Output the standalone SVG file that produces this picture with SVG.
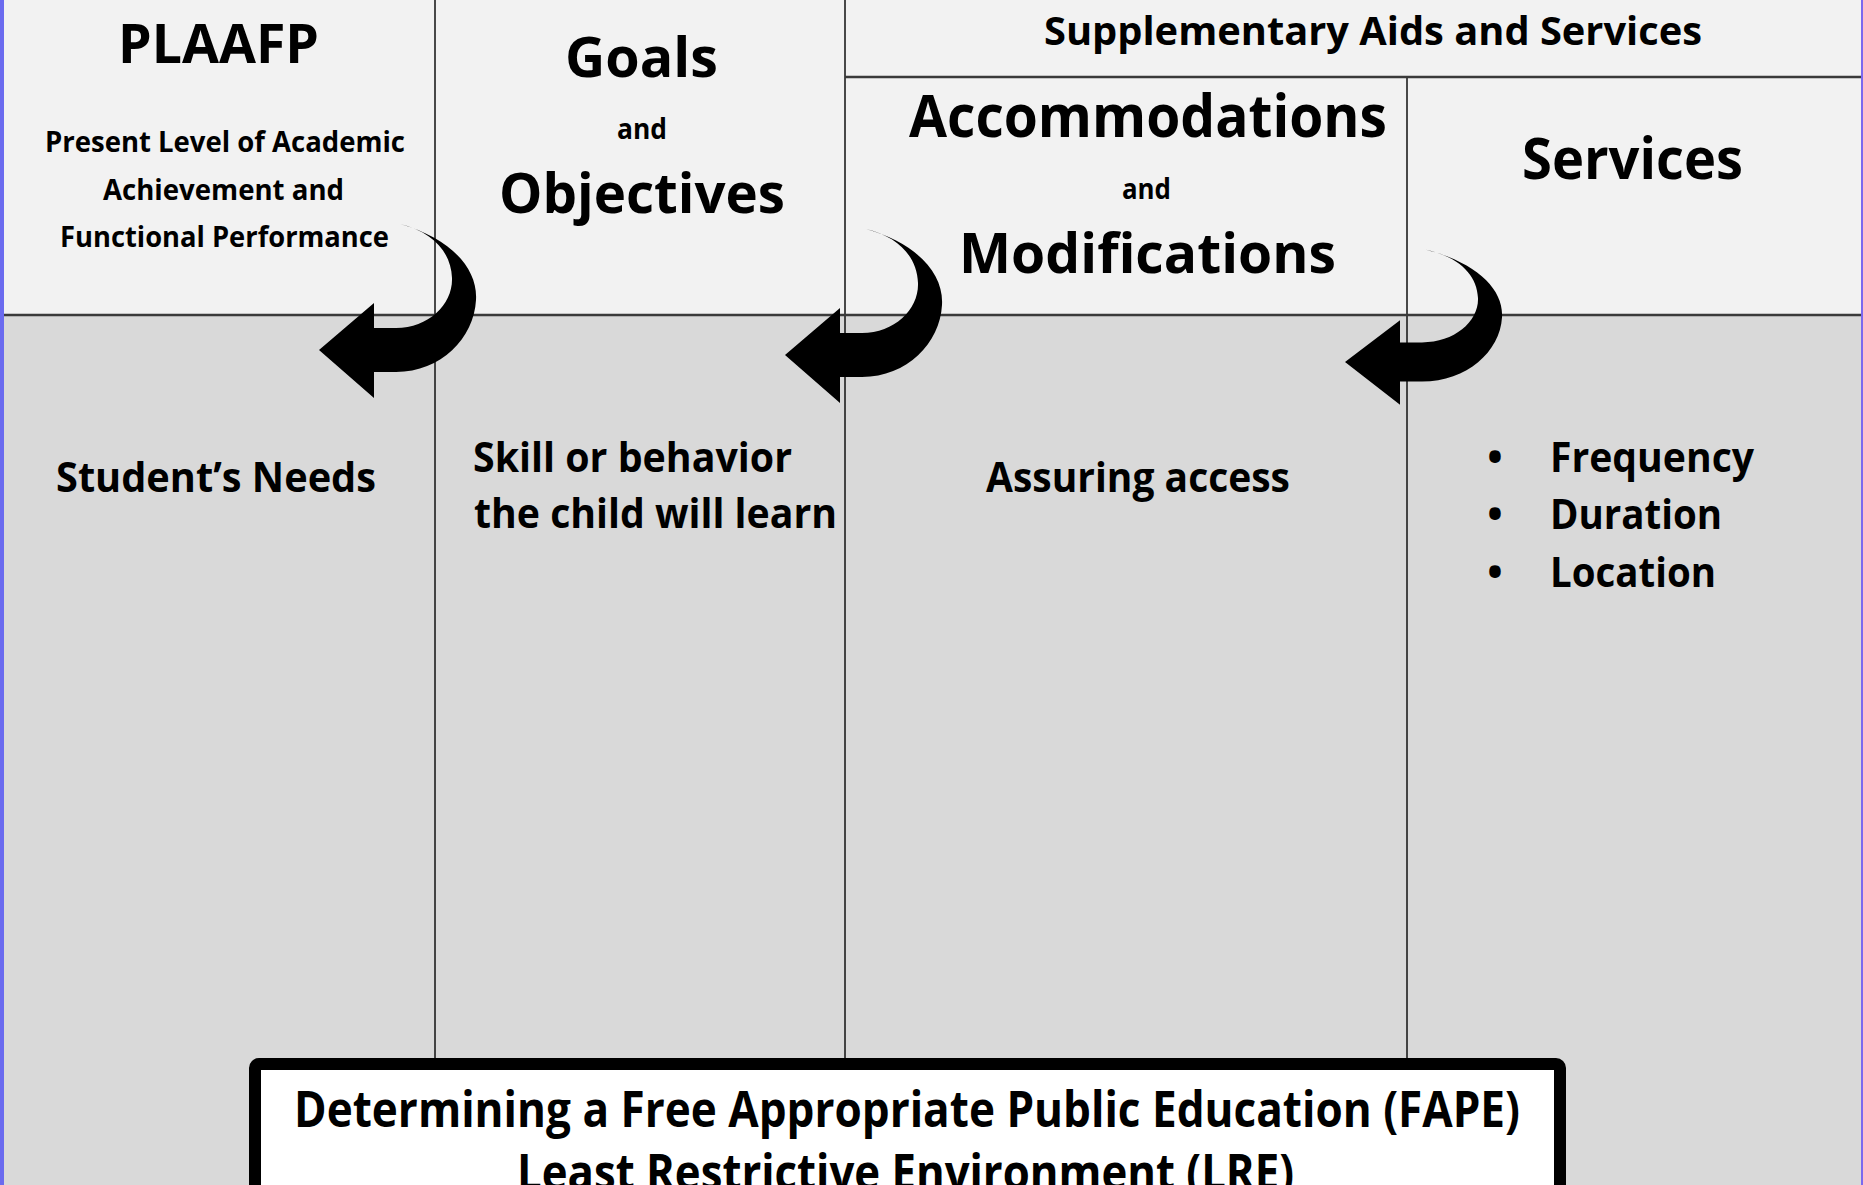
<svg xmlns="http://www.w3.org/2000/svg" xmlns:xlink="http://www.w3.org/1999/xlink" width="1863" height="1185" viewBox="0 0 1863 1185">
<style>
text{font-family:"Open Sans","Liberation Sans",sans-serif;font-weight:700;fill:#000}
.grid{stroke:#1e1e1e;stroke-width:1.6;fill:none}
.hline{stroke:#3a3a3a;stroke-width:2.5;fill:none}
.arrow{fill:#000}
</style>
<defs>
<path id="curlArrow" d="M81,-126 C131,-112 159,-82 157,-50 C155,-12 122,22 77,22 L55,22 L55,48 L0,0 L55,-47 L55,-22 L77,-22 C110,-22 134,-46 133,-72 C132,-98 114,-118 81,-126 Z"/>
</defs>
<rect x="0" y="0" width="1863" height="315" fill="#f2f2f2"/>
<rect x="0" y="315" width="1863" height="870" fill="#d9d9d9"/>
<rect x="0" y="0" width="4" height="1185" fill="#6b6bef"/>
<rect x="1861" y="0" width="2" height="1185" fill="#7b68ee"/>
<g id="gridlines">
<line class="grid" x1="435" y1="0" x2="435" y2="1058"/>
<line class="grid" x1="845" y1="0" x2="845" y2="1058"/>
<line class="grid" x1="1407" y1="77" x2="1407" y2="1058"/>
<line class="hline" x1="845" y1="77" x2="1861" y2="77"/>
<line class="hline" x1="4" y1="315" x2="1861" y2="315"/>
</g>
<g id="plaafp">
<text x="118" y="63" font-size="53" textLength="201" lengthAdjust="spacingAndGlyphs">PLAAFP</text>
<text x="45" y="152" font-size="28" textLength="360" lengthAdjust="spacingAndGlyphs">Present Level of Academic</text>
<text x="103" y="200" font-size="28" textLength="241" lengthAdjust="spacingAndGlyphs">Achievement and</text>
<text x="60" y="247" font-size="28" textLength="329" lengthAdjust="spacingAndGlyphs">Functional Performance</text>
<text x="56" y="492" font-size="41" textLength="320" lengthAdjust="spacingAndGlyphs">Student’s Needs</text>
</g>
<g id="goals">
<text x="565" y="77" font-size="56" textLength="153" lengthAdjust="spacingAndGlyphs">Goals</text>
<text x="617" y="139" font-size="28" textLength="50" lengthAdjust="spacingAndGlyphs">and</text>
<text x="499" y="213" font-size="56" textLength="286" lengthAdjust="spacingAndGlyphs">Objectives</text>
<text x="473" y="472" font-size="41" textLength="319" lengthAdjust="spacingAndGlyphs">Skill or behavior</text>
<text x="474" y="528" font-size="41" textLength="363" lengthAdjust="spacingAndGlyphs">the child will learn</text>
</g>
<g id="supplementary">
<text x="1044" y="45" font-size="40" textLength="658" lengthAdjust="spacingAndGlyphs">Supplementary Aids and Services</text>
</g>
<g id="accommodations">
<text x="909" y="137" font-size="59" textLength="478" lengthAdjust="spacingAndGlyphs">Accommodations</text>
<text x="1122" y="199" font-size="28" textLength="49" lengthAdjust="spacingAndGlyphs">and</text>
<text x="959" y="273" font-size="56" textLength="377" lengthAdjust="spacingAndGlyphs">Modifications</text>
<text x="986" y="492" font-size="41" textLength="304" lengthAdjust="spacingAndGlyphs">Assuring access</text>
</g>
<g id="services">
<text x="1522" y="179" font-size="57" textLength="221" lengthAdjust="spacingAndGlyphs">Services</text>
<text x="1495" y="472" font-size="41" text-anchor="middle">•</text>
<text x="1495" y="529" font-size="41" text-anchor="middle">•</text>
<text x="1495" y="587" font-size="41" text-anchor="middle">•</text>
<text x="1550" y="472" font-size="41" textLength="204" lengthAdjust="spacingAndGlyphs">Frequency</text>
<text x="1550" y="529" font-size="41" textLength="172" lengthAdjust="spacingAndGlyphs">Duration</text>
<text x="1550" y="587" font-size="41" textLength="166" lengthAdjust="spacingAndGlyphs">Location</text>
</g>
<g id="fape">
<rect x="255" y="1064" width="1305" height="200" rx="4" fill="#fff" stroke="#000" stroke-width="12"/>
<text x="294" y="1127" font-size="51" textLength="1226" lengthAdjust="spacingAndGlyphs">Determining a Free Appropriate Public Education (FAPE)</text>
<text x="517" y="1190" font-size="51" textLength="777" lengthAdjust="spacingAndGlyphs">Least Restrictive Environment (LRE)</text>
</g>
<g id="connectors">
<use xlink:href="#curlArrow" class="arrow" transform="translate(319,350)"/>
<use xlink:href="#curlArrow" class="arrow" transform="translate(785,355)"/>
<use xlink:href="#curlArrow" class="arrow" transform="translate(1345,362) scale(1,0.89)"/>
</g>
</svg>
